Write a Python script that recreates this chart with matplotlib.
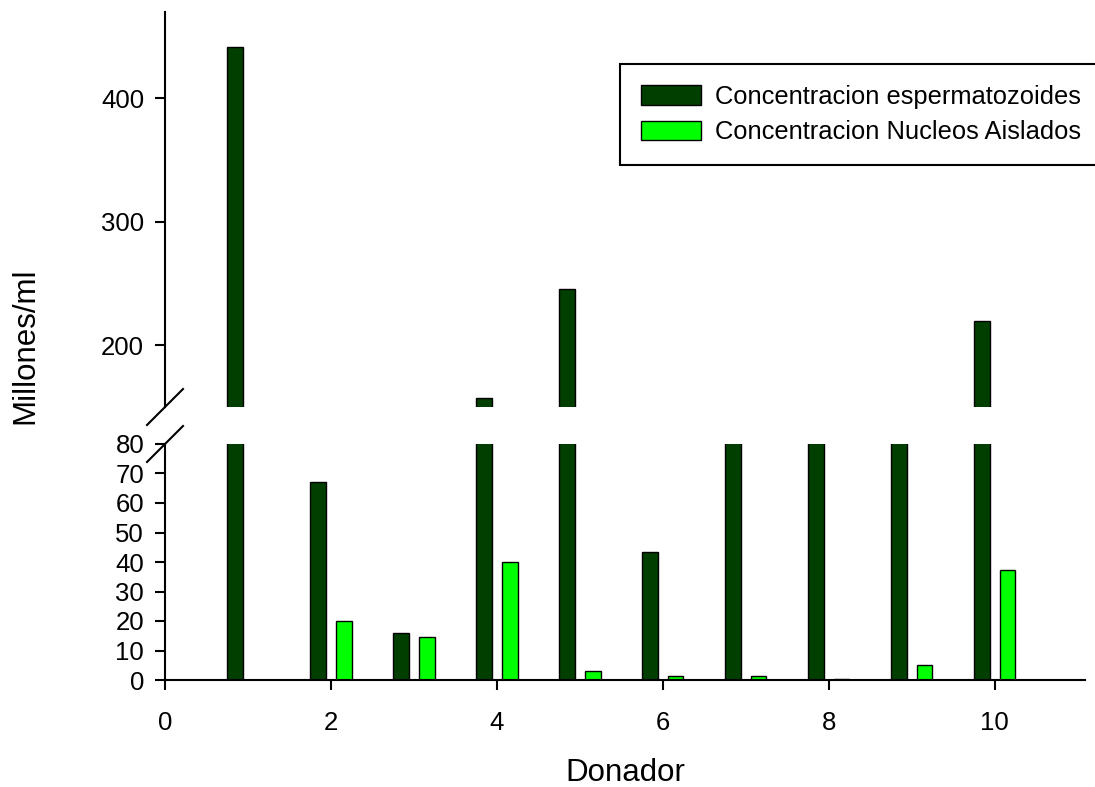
import numpy as np
import matplotlib
matplotlib.use('Agg')
import matplotlib.pyplot as plt
from matplotlib.lines import Line2D

plt.rcParams['font.family'] = ['Liberation Sans', 'DejaVu Sans']

# data (millones/ml)
donador = np.arange(1, 11)
espermatozoides = [442, 67, 16, 157, 246, 43.3, 120, 105, 130, 219.5]
nucleos = [0, 20, 14.5, 40, 3, 1.2, 1.5, 0.5, 5, 37.3]

dark = '#003f00'
light = '#00ff00'
w = 0.19
off = 0.155

W, H = 1095, 787
fig = plt.figure(figsize=(W / 100, H / 100), dpi=100)

# pixel box -> figure fraction
def box(x0, y0, x1, y1):
    return [x0 / W, 1 - y1 / H, (x1 - x0) / W, (y1 - y0) / H]

ax_top = fig.add_axes(box(165, 12, 1085, 407))
ax_low = fig.add_axes(box(165, 444, 1085, 680))

for ax in (ax_top, ax_low):
    ax.bar(donador - off, espermatozoides, w, color=dark, edgecolor='black', linewidth=1,
           label='Concentracion espermatozoides')
    ax.bar(donador + off, nucleos, w, color=light, edgecolor='black', linewidth=1,
           label='Concentracion Nucleos Aislados')
    ax.set_xlim(0, 11.09)
    ax.spines['top'].set_visible(False)
    ax.spines['right'].set_visible(False)
    for s in ax.spines.values():
        s.set_linewidth(1.5)
    ax.tick_params(direction='out', length=7, width=1.5, labelsize=18.5, pad=8)

ax_top.set_ylim(150, 470)
ax_top.set_yticks([200, 300, 400])
ax_top.spines['bottom'].set_visible(False)
ax_top.set_xticks([])

ax_low.set_ylim(0, 80)
ax_low.set_yticks(np.arange(0, 81, 10))
ax_low.set_xticks([0, 2, 4, 6, 8, 10])
ax_low.tick_params(axis='x', pad=15)

# axis break marks
for y0, y1 in [(425, 389), (462, 426)]:
    fig.add_artist(Line2D([147 / W, 183 / W], [1 - y0 / H, 1 - y1 / H],
                          color='black', linewidth=1.5))

leg = ax_top.legend(loc='upper left', bbox_to_anchor=(620 / W, 1 - 64 / H),
                    bbox_transform=fig.transFigure, fontsize=18.4, frameon=True,
                    fancybox=False, edgecolor='black', framealpha=1,
                    handlelength=2.35, handleheight=0.8, handletextpad=0.55,
                    borderpad=0.82, labelspacing=0.45, borderaxespad=0)
leg.get_frame().set_linewidth(1.5)

fig.text(25 / W, 1 - 346 / H, 'Millones/ml', rotation=90, ha='center', va='center', fontsize=22.5)
fig.text(625 / W, 1 - 773 / H, 'Donador', ha='center', va='center', fontsize=22.5)

fig.savefig('out.png', dpi=100)
